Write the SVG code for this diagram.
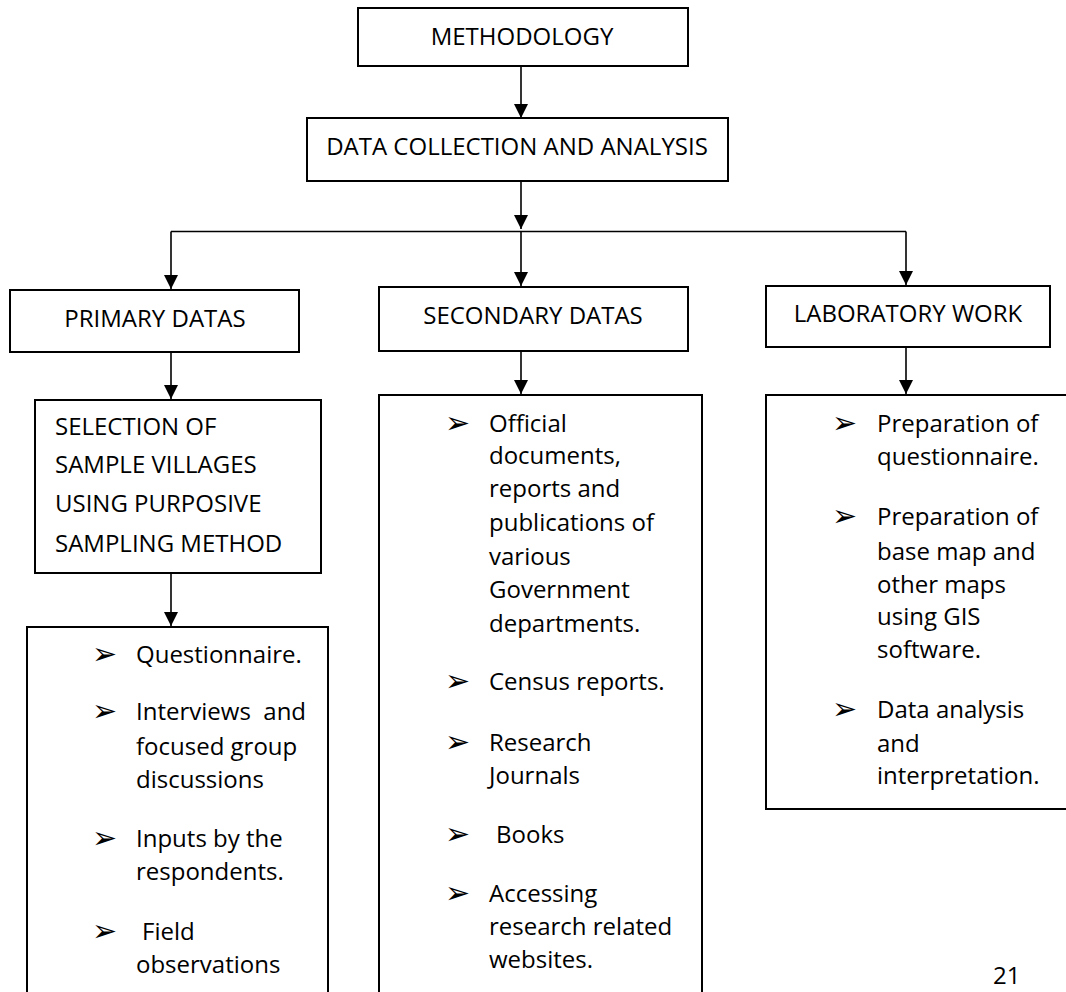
<svg xmlns="http://www.w3.org/2000/svg" width="1066" height="992" viewBox="0 0 1066 992">
<style>
  .box { fill: #fff; stroke: #000; stroke-width: 2; }
  .t { font-family: "Open Sans", "Liberation Sans", sans-serif; font-size: 24px; fill: #000; white-space: pre; }
  .c { text-anchor: middle; }
  .b { font-family: "DejaVu Sans", sans-serif; font-size: 30px; fill: #000; }
  .ln { fill: none; stroke: #000; stroke-width: 1.6; }
</style>
<defs>
  <marker id="ah" markerUnits="userSpaceOnUse" markerWidth="14" markerHeight="14" refX="14" refY="7" orient="auto">
    <path d="M0,0 L14,7 L0,14 Z" fill="#000"/>
  </marker>
</defs>
<rect width="1066" height="992" fill="#fff"/>

<g id="connectors">
  <line class="ln" x1="521" y1="66" x2="521" y2="118" marker-end="url(#ah)"/>
  <line class="ln" x1="521" y1="181" x2="521" y2="229" marker-end="url(#ah)"/>
  <polyline class="ln" points="171,231.5 906,231.5"/>
  <line class="ln" x1="171" y1="231.5" x2="171" y2="289" marker-end="url(#ah)"/>
  <line class="ln" x1="521" y1="231.5" x2="521" y2="286" marker-end="url(#ah)"/>
  <line class="ln" x1="906" y1="231.5" x2="906" y2="285" marker-end="url(#ah)"/>
  <line class="ln" x1="171" y1="352" x2="171" y2="399" marker-end="url(#ah)"/>
  <line class="ln" x1="521" y1="351" x2="521" y2="394" marker-end="url(#ah)"/>
  <line class="ln" x1="906" y1="347" x2="906" y2="394" marker-end="url(#ah)"/>
  <line class="ln" x1="171" y1="573" x2="171" y2="626" marker-end="url(#ah)"/>
</g>

<g id="methodology">
  <rect class="box" x="358" y="8" width="330" height="58"/>
  <text class="t c" x="522" y="45">METHODOLOGY</text>
</g>

<g id="data-collection">
  <rect class="box" x="307" y="118" width="421" height="63"/>
  <text class="t c" x="517" y="155">DATA COLLECTION AND ANALYSIS</text>
</g>

<g id="primary">
  <rect class="box" x="10" y="290" width="289" height="62"/>
  <text class="t c" x="155" y="327">PRIMARY DATAS</text>
</g>

<g id="secondary">
  <rect class="box" x="379" y="287" width="309" height="64"/>
  <text class="t c" x="533" y="324">SECONDARY DATAS</text>
</g>

<g id="laboratory">
  <rect class="box" x="766" y="286" width="284" height="61"/>
  <text class="t c" x="908" y="322">LABORATORY WORK</text>
</g>

<g id="selection">
  <rect class="box" x="35" y="400" width="286" height="173"/>
  <text class="t" x="55" y="435">SELECTION OF</text>
  <text class="t" x="55" y="473">SAMPLE VILLAGES</text>
  <text class="t" x="55" y="512">USING PURPOSIVE</text>
  <text class="t" x="55" y="552">SAMPLING METHOD</text>
</g>

<g id="primary-list">
  <rect class="box" x="27" y="627" width="301" height="380"/>
  <text class="b" x="92" y="664">➢</text>
  <text class="t" x="136" y="663">Questionnaire.</text>
  <text class="b" x="92" y="721">➢</text>
  <text class="t" x="136" y="720">Interviews  and</text>
  <text class="t" x="136" y="755">focused group</text>
  <text class="t" x="136" y="788">discussions</text>
  <text class="b" x="92" y="848">➢</text>
  <text class="t" x="136" y="847">Inputs by the</text>
  <text class="t" x="136" y="880">respondents.</text>
  <text class="b" x="92" y="941">➢</text>
  <text class="t" x="142" y="940">Field</text>
  <text class="t" x="136" y="973">observations</text>
</g>

<g id="secondary-list">
  <rect class="box" x="379" y="395" width="323" height="612"/>
  <text class="b" x="445" y="433">➢</text>
  <text class="t" x="489" y="432">Official</text>
  <text class="t" x="489" y="464">documents,</text>
  <text class="t" x="489" y="497">reports and</text>
  <text class="t" x="489" y="531">publications of</text>
  <text class="t" x="489" y="565">various</text>
  <text class="t" x="489" y="598">Government</text>
  <text class="t" x="489" y="632">departments.</text>
  <text class="b" x="445" y="691">➢</text>
  <text class="t" x="489" y="690">Census reports.</text>
  <text class="b" x="445" y="752">➢</text>
  <text class="t" x="489" y="751">Research</text>
  <text class="t" x="489" y="784">Journals</text>
  <text class="b" x="445" y="844">➢</text>
  <text class="t" x="496" y="843">Books</text>
  <text class="b" x="445" y="903">➢</text>
  <text class="t" x="489" y="902">Accessing</text>
  <text class="t" x="489" y="935">research related</text>
  <text class="t" x="489" y="968">websites.</text>
</g>

<g id="laboratory-list">
  <rect class="box" x="766" y="395" width="310" height="414"/>
  <text class="b" x="832" y="433">➢</text>
  <text class="t" x="877" y="432">Preparation of</text>
  <text class="t" x="877" y="465">questionnaire.</text>
  <text class="b" x="832" y="526">➢</text>
  <text class="t" x="877" y="525">Preparation of</text>
  <text class="t" x="877" y="560">base map and</text>
  <text class="t" x="877" y="593">other maps</text>
  <text class="t" x="877" y="625">using GIS</text>
  <text class="t" x="877" y="658">software.</text>
  <text class="b" x="832" y="719">➢</text>
  <text class="t" x="877" y="718">Data analysis</text>
  <text class="t" x="877" y="752">and</text>
  <text class="t" x="877" y="784">interpretation.</text>
</g>

<text class="t" x="993" y="984">21</text>
</svg>
